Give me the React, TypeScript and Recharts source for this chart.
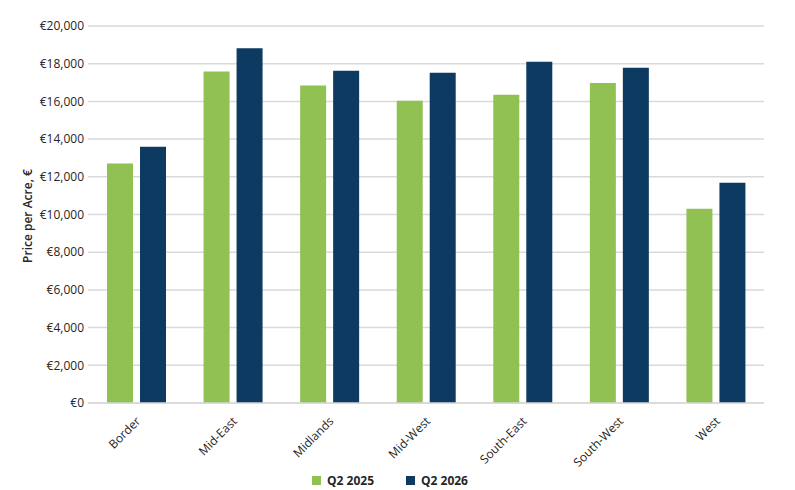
import { BarChart, Bar, XAxis, YAxis, CartesianGrid, Legend } from "recharts";

const regions = ["Border", "Mid-East", "Midlands", "Mid-West", "South-East", "South-West", "West"];
const q2025 = [12700, 17580, 16840, 16030, 16350, 16980, 10300];
const q2026 = [13600, 18820, 17630, 17520, 18110, 17790, 11680];
const yTicks = [0, 2000, 4000, 6000, 8000, 10000, 12000, 14000, 16000, 18000, 20000];

const chartData = regions.map((r, i) => ({ region: r, q2025: q2025[i], q2026: q2026[i] }));

const FONT = "'Open Sans', 'Noto Sans', sans-serif";
const GREEN = "#91c053";
const NAVY = "#0d3a60";

const euro = (v: number) => "€" + v.toLocaleString("en-US");

function XTick({ x, y, payload }: any) {
  return (
    <g transform={`translate(${x + 2},${y + 8})`}>
      <text
        x={0}
        y={0}
        dy="0.35em"
        textAnchor="end"
        transform="rotate(-45)"
        fontFamily={FONT}
        fontSize={12}
        fill="#1f1f1f"
      >
        {payload.value}
      </text>
    </g>
  );
}

function YTitle() {
  return (
    <text
      x={27}
      y={216}
      textAnchor="middle"
      dominantBaseline="central"
      transform="rotate(-90 27 216)"
      fontFamily={FONT}
      fontSize={12}
      fontWeight={600}
      fill="#262626"
    >
      Price per Acre, €
    </text>
  );
}

function LegendBox({ payload }: any) {
  return (
    <div
      style={{
        display: "flex",
        justifyContent: "center",
        alignItems: "flex-end",
        boxSizing: "border-box",
        height: 24,
        paddingBottom: 1,
        paddingLeft: 16,
        fontFamily: FONT,
        fontSize: 12,
        fontWeight: 700,
        color: "#262626",
      }}
    >
      {(payload || []).map((p: any, i: number) => (
        <div key={p.value} style={{ display: "flex", alignItems: "center", marginLeft: i ? 32 : 0 }}>
          <span style={{ width: 9, height: 9, background: p.color, marginRight: 6, display: "inline-block" }} />
          <span>{p.value}</span>
        </div>
      ))}
    </div>
  );
}

export default function App() {
  return (
    <div style={{ position: "absolute", left: 0, top: 0, width: 795, height: 490, background: "#fff" }}>
      <BarChart
        width={795}
        height={490}
        data={chartData}
        margin={{ top: 26, right: 31, left: 0, bottom: 0 }}
        barSize={26}
        barGap={7}
      >
        <CartesianGrid vertical={false} stroke="#d9d9d9" strokeWidth={1.5} />
        <XAxis
          dataKey="region"
          height={63}
          interval={0}
          tick={<XTick />}
          tickLine={false}
          axisLine={{ stroke: "#d9d9d9", strokeWidth: 1.5 }}
        />
        <YAxis
          width={88}
          domain={[0, 20000]}
          ticks={yTicks}
          tickFormatter={euro}
          tickLine={false}
          axisLine={false}
          tickSize={0}
          tickMargin={4}
          tick={{ fontFamily: FONT, fontSize: 12, fill: "#262626" }}
          label={<YTitle />}
        />
        <Legend
          verticalAlign="bottom"
          align="center"
          content={<LegendBox />}
          wrapperStyle={{ height: 24 }}
        />
        <Bar dataKey="q2025" name="Q2 2025" fill={GREEN} isAnimationActive={false} />
        <Bar dataKey="q2026" name="Q2 2026" fill={NAVY} isAnimationActive={false} />
      </BarChart>
    </div>
  );
}
